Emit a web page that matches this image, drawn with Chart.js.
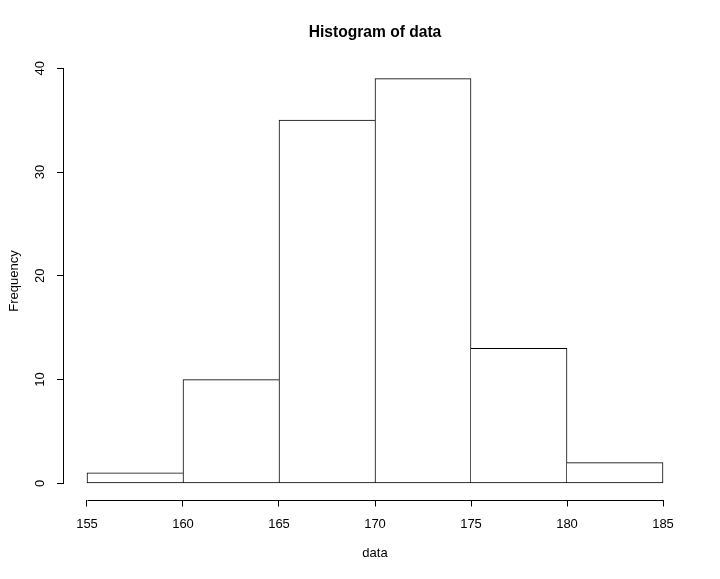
<!DOCTYPE html>
<html>
<head>
<meta charset="utf-8">
<script src="https://cdn.jsdelivr.net/npm/chart.js"></script>
<style>
  *{margin:0;padding:0;box-sizing:border-box}
  body{background:#fff;width:720px;height:579px;overflow:hidden}
  #wrap{width:720px;height:579px}
</style>
</head>
<body>
<div id="wrap"><canvas id="hist"></canvas></div>
<script>
// histogram of data, bins of width 5
const binEdges = [155, 160, 165, 170, 175, 180, 185];
const counts = [1, 10, 35, 39, 13, 2];
const xTicks = [155, 160, 165, 170, 175, 180, 185];
const yTicks = [0, 10, 20, 30, 40];

const FONT = "'Liberation Sans', Arial, sans-serif";

const points = counts.map((c, i) => ({ x: (binEdges[i] + binEdges[i + 1]) / 2, y: c }));

// R style: axis lines only span first..last tick, y labels rotated
const rAxes = {
  id: "rAxes",
  afterDraw(chart) {
    const { ctx, chartArea, scales: { x, y } } = chart;
    ctx.save();
    ctx.strokeStyle = "#000";
    ctx.lineWidth = 1;
    const ax = Math.round(chartArea.left) - 0.5;
    const ay = Math.round(chartArea.bottom) + 0.5;
    ctx.beginPath();
    ctx.moveTo(ax, Math.round(y.getPixelForValue(yTicks[0])) + 0.5);
    ctx.lineTo(ax, Math.round(y.getPixelForValue(yTicks[yTicks.length - 1])) + 0.5);
    ctx.moveTo(Math.round(x.getPixelForValue(xTicks[0])) + 0.5, ay);
    ctx.lineTo(Math.round(x.getPixelForValue(xTicks[xTicks.length - 1])) + 0.5, ay);
    ctx.stroke();

    ctx.fillStyle = "#000";
    ctx.font = "13px " + FONT;
    ctx.textAlign = "center";
    ctx.textBaseline = "middle";
    yTicks.forEach(v => {
      ctx.save();
      ctx.translate(40.5, y.getPixelForValue(v));
      ctx.rotate(-Math.PI / 2);
      ctx.fillText(String(v), 0, 0);
      ctx.restore();
    });
    ctx.restore();
  }
};

new Chart(document.getElementById("hist"), {
  type: "bar",
  data: {
    datasets: [{
      data: points,
      backgroundColor: "#fff",
      borderColor: "#000",
      borderSkipped: false,
      borderWidth: c => {
        const i = c.dataIndex, v = counts;
        return {
          top: 1,
          bottom: 1,
          left: (i === 0 || v[i - 1] < v[i]) ? 1 : 0,
          right: (i === v.length - 1 || v[i + 1] <= v[i]) ? 1 : 0
        };
      },
      barPercentage: 1,
      categoryPercentage: 1
    }]
  },
  options: {
    responsive: true,
    maintainAspectRatio: false,
    animation: false,
    layout: { padding: { right: 33.96 } },
    plugins: {
      legend: { display: false },
      tooltip: { enabled: false },
      title: {
        display: true,
        text: "Histogram of data",
        fullSize: false,
        color: "#000",
        font: { family: FONT, size: 15.6, weight: "bold" },
        padding: { top: 23.6, bottom: 20.2 }
      }
    },
    scales: {
      x: {
        type: "linear",
        min: 153.8,
        max: 186.2,
        offset: false,
        afterBuildTicks: s => { s.ticks = xTicks.map(v => ({ value: v })); },
        afterFit: s => { s.height = 79.5; },
        border: { display: false },
        grid: { offset: false, drawOnChartArea: false, drawTicks: true, tickLength: 7, color: "#000", lineWidth: 1 },
        ticks: { color: "#000", font: { family: FONT, size: 13 }, padding: 10, maxRotation: 0, autoSkip: false },
        title: { display: true, text: "data", color: "#000", font: { family: FONT, size: 13 }, padding: { top: 0, bottom: 18.2 } }
      },
      y: {
        min: -1.56,
        max: 40.56,
        afterBuildTicks: s => { s.ticks = yTicks.map(v => ({ value: v })); },
        afterFit: s => { s.width = 63.96; },
        border: { display: false },
        grid: { drawOnChartArea: false, drawTicks: true, tickLength: 7, color: "#000", lineWidth: 1 },
        ticks: { display: false },
        title: { display: true, text: "Frequency", color: "#000", font: { family: FONT, size: 13 }, padding: { top: 6.2, bottom: 0 } }
      }
    }
  },
  plugins: [rAxes]
});
</script>
</body>
</html>
